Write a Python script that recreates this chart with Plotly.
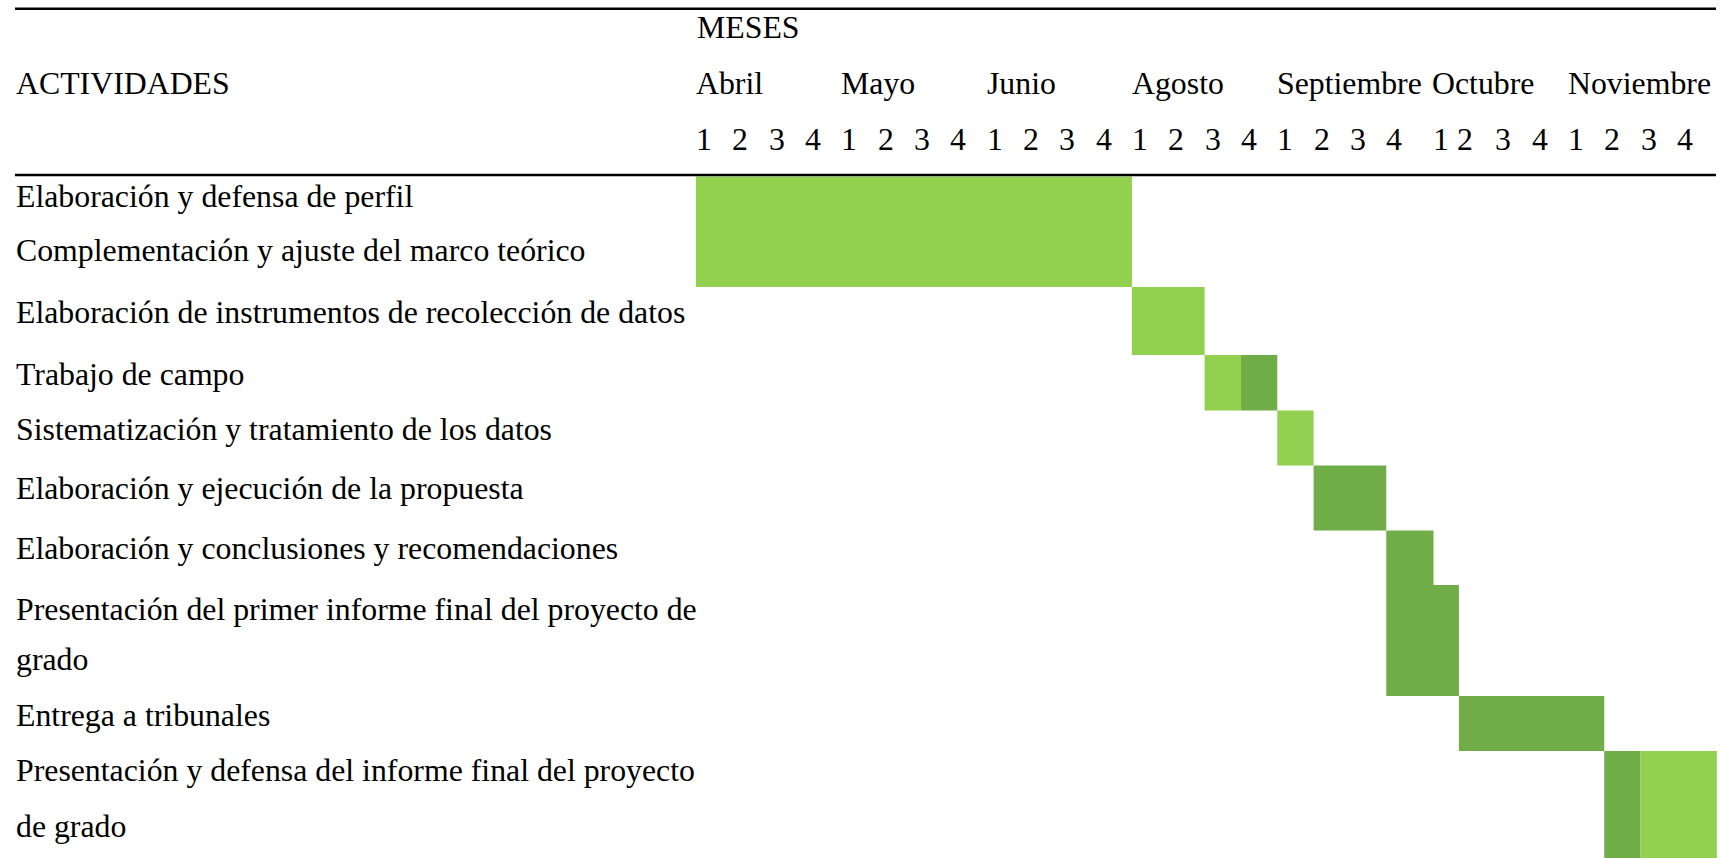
import plotly.graph_objects as go

# ---------------- data ----------------
activities = [
    ["Elaboración y defensa de perfil"],
    ["Complementación y ajuste del marco teórico"],
    ["Elaboración de instrumentos de recolección de datos"],
    ["Trabajo de campo"],
    ["Sistematización y tratamiento de los datos"],
    ["Elaboración y ejecución de la propuesta"],
    ["Elaboración y conclusiones y recomendaciones"],
    ["Presentación del primer informe final del proyecto de", "grado"],
    ["Entrega a tribunales"],
    ["Presentación y defensa del informe final del proyecto", "de grado"],
]

months = ["Abril", "Mayo", "Junio", "Agosto", "Septiembre", "Octubre", "Noviembre"]
week_labels = ["1", "2", "3", "4"]

# segments of the schedule (start week index from Abril-1, duration in weeks)
seg_activity = [0, 1, 2, 3, 3, 4, 5, 6, 7, 8, 9, 9]
seg_start = [0, 0, 12, 14, 15, 16, 17, 19, 19, 21, 25, 26]
seg_weeks = [12, 12, 2, 1, 1, 1, 2, 1.3, 2, 4, 1, 2.1]
seg_tone = ["claro", "claro", "claro", "claro", "oscuro", "claro", "oscuro",
            "oscuro", "oscuro", "oscuro", "oscuro", "claro"]

# ---------------- layout / style ----------------
W, H = 1726, 858
GRID_LEFT = 696.0      # px where the first week column starts
CELL_W = 36.33         # px per week column
LEFT_PAD = 15.0
RIGHT_END = 1716.0
FS = 31.8
FONT = "Liberation Serif, Times New Roman, serif"
TONES = {"claro": "#92D050", "oscuro": "#70AD47"}

# row geometry (vertical, px from top)
ROW_EDGES = [176.5, 232, 287, 355, 410.5, 465.5, 530.5, 585, 696, 751, 880]
LABEL_BASELINES = [[207], [261.5], [323], [385], [440], [499], [559.5],
                   [620, 670], [726], [781, 837]]
HEADER_BASELINES = {"meses": 38, "months": 94, "weeks": 150}
TOP_LINE_Y = 8.7
HEAD_LINE_Y = 175.0
MONTH_XSHIFT = {5: 9.5}
WEEK_XSHIFT = {20: 10, 21: -2}

row_center = [(ROW_EDGES[i] + ROW_EDGES[i + 1]) / 2 for i in range(len(activities))]
row_height = [ROW_EDGES[i + 1] - ROW_EDGES[i] for i in range(len(activities))]

fig = go.Figure()
fig.add_trace(go.Bar(
    orientation="h",
    y=[row_center[a] for a in seg_activity],
    width=[row_height[a] for a in seg_activity],
    base=seg_start,
    x=seg_weeks,
    marker=dict(color=[TONES[t] for t in seg_tone], line=dict(width=0)),
    hoverinfo="skip",
    showlegend=False,
))

def mid(baseline):
    return baseline - 0.3375 * FS

ann = []
txt = dict(family=FONT, size=FS, color="black")

# activity labels
for lines, bases in zip(activities, LABEL_BASELINES):
    for line, b in zip(lines, bases):
        ann.append(dict(text=line, xref="paper", x=LEFT_PAD / W, xanchor="left",
                        yref="y", y=mid(b), yanchor="middle", showarrow=False,
                        font=txt, borderpad=0))

# header
ann.append(dict(text="ACTIVIDADES", xref="paper", x=LEFT_PAD / W, xanchor="left",
                yref="y", y=mid(HEADER_BASELINES["months"]), yanchor="middle",
                showarrow=False, font=txt, borderpad=0))
ann.append(dict(text="MESES", xref="x", x=0, xanchor="left", xshift=0,
                yref="y", y=mid(HEADER_BASELINES["meses"]), yanchor="middle",
                showarrow=False, font=txt, borderpad=0))
for i, m in enumerate(months):
    ann.append(dict(text=m, xref="x", x=i * 4, xanchor="left",
                    xshift=-1 + MONTH_XSHIFT.get(i, 0),
                    yref="y", y=mid(HEADER_BASELINES["months"]), yanchor="middle",
                    showarrow=False, font=txt, borderpad=0))
for i in range(len(months)):
    for j, wl in enumerate(week_labels):
        k = i * 4 + j
        ann.append(dict(text=wl, xref="x", x=k, xanchor="left",
                        xshift=-1 + WEEK_XSHIFT.get(k, 0),
                        yref="y", y=mid(HEADER_BASELINES["weeks"]), yanchor="middle",
                        showarrow=False, font=txt, borderpad=0))

shapes = [
    dict(type="line", xref="paper", x0=LEFT_PAD / W, x1=RIGHT_END / W,
         yref="y", y0=TOP_LINE_Y, y1=TOP_LINE_Y, line=dict(color="black", width=2.5)),
    dict(type="line", xref="paper", x0=LEFT_PAD / W, x1=RIGHT_END / W,
         yref="y", y0=HEAD_LINE_Y, y1=HEAD_LINE_Y, line=dict(color="black", width=2.5)),
]

fig.update_layout(
    width=W, height=H,
    margin=dict(l=0, r=0, t=0, b=0, pad=0),
    paper_bgcolor="white", plot_bgcolor="white",
    xaxis=dict(range=[-GRID_LEFT / CELL_W, (W - GRID_LEFT) / CELL_W],
               visible=False, fixedrange=True),
    yaxis=dict(range=[H, 0], visible=False, fixedrange=True),
    annotations=ann,
    shapes=shapes,
    barmode="overlay",
    showlegend=False,
)

fig.write_html(
    "out.html",
    config={"displayModeBar": False, "staticPlot": True},
    post_script="document.body.style.margin='0';document.body.style.overflow='hidden';",
)
